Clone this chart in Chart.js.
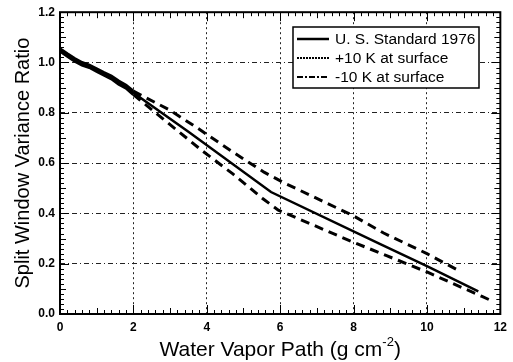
<!DOCTYPE html>
<html>
<head>
<meta charset="utf-8">
<script src="https://cdn.jsdelivr.net/npm/chart.js@4.4.1/dist/chart.umd.min.js"></script>
<style>
    html, body { margin: 0; padding: 0; background: #fff; }
    canvas { display: block; }
</style>
</head>
<body>
<canvas id="myChart" width="513" height="362"></canvas>
<script>
// U. S. Standard 1976
const standardX = [0, 0.2, 0.4, 0.6, 0.8, 1.0, 1.2, 1.4, 1.6, 1.8, 2.0, 3.5, 5.75, 8.7, 10.0, 11.4];
const standardY = [1.05, 1.03, 1.01, 0.995, 0.985, 0.97, 0.955, 0.94, 0.92, 0.905, 0.88, 0.725, 0.485, 0.28, 0.19, 0.09];

// +10 K at surface
const warmX = [0, 0.2, 0.4, 0.6, 0.8, 1.0, 1.2, 1.4, 1.6, 1.8, 2.0, 3.0, 3.75, 4.67, 5.56, 6.13, 8.0, 8.82, 10.0, 10.9];
const warmY = [1.055, 1.035, 1.016, 1.0, 0.99, 0.975, 0.96, 0.946, 0.926, 0.91, 0.886, 0.81, 0.739, 0.648, 0.564, 0.52, 0.39, 0.322, 0.24, 0.17];

// -10 K at surface
const coldX = [0, 0.2, 0.4, 0.6, 0.8, 1.0, 1.2, 1.4, 1.6, 1.8, 2.0, 3.85, 4.72, 5.54, 5.95, 8.0, 8.9, 10.0, 11.5, 11.8];
const coldY = [1.045, 1.025, 1.005, 0.99, 0.98, 0.965, 0.95, 0.935, 0.914, 0.898, 0.872, 0.652, 0.556, 0.457, 0.413, 0.285, 0.232, 0.167, 0.07, 0.05];

const seriesLabels = ['U. S. Standard 1976', '+10 K at surface', '-10 K at surface'];
const legendDash = [[], [2, 1], [6, 2, 2, 2]];

const xTicks = [0, 2, 4, 6, 8, 10, 12];
const yTicks = [0.0, 0.2, 0.4, 0.6, 0.8, 1.0, 1.2];

const FONT = '"Liberation Sans", Arial, Helvetica, sans-serif';

/**
 * x と y の配列から点データを作ります。
 */
const toPoints = (xs, ys) => xs.map((x, i) => ({ x: x, y: ys[i] }));

/**
 * 2 g/cm2 より先を破線にします。
 */
const dashAfterTwo = (ctx) => (ctx.p0.parsed.x < 2 ? [] : [9, 6]);

/**
 * 枠と内向きの目盛りを描きます。
 */
const frameTicks = {
    id: 'frameTicks',
    afterDatasetsDraw(chart) {
        const { ctx, chartArea: a, scales } = chart;
        const x = scales.x;
        const y = scales.y;

        ctx.save();
        ctx.strokeStyle = '#000';
        ctx.lineWidth = 1;
        ctx.setLineDash([]);
        ctx.beginPath();

        for (let i = 0; i <= 60; i++) {
            const px = Math.round(x.getPixelForValue(i * 0.2)) + 0.5;
            const len = i % 10 === 0 ? 9 : (i % 5 === 0 ? 6 : 4);
            ctx.moveTo(px, a.bottom);
            ctx.lineTo(px, a.bottom - len);
            ctx.moveTo(px, a.top);
            ctx.lineTo(px, a.top + len);
        }

        for (let i = 0; i <= 60; i++) {
            const py = Math.round(y.getPixelForValue(i * 0.02)) + 0.5;
            const len = i % 10 === 0 ? 9 : (i % 5 === 0 ? 6 : 4);
            ctx.moveTo(a.left, py);
            ctx.lineTo(a.left + len, py);
            ctx.moveTo(a.right, py);
            ctx.lineTo(a.right - len, py);
        }
        ctx.stroke();

        ctx.lineWidth = 2;
        ctx.strokeRect(a.left, a.top, a.right - a.left, a.bottom - a.top);
        ctx.restore();
    },
};

/**
 * 軸タイトルと凡例を描きます。
 */
const labelsAndLegend = {
    id: 'labelsAndLegend',
    afterDraw(chart) {
        const { ctx, chartArea: a } = chart;

        ctx.save();
        ctx.fillStyle = '#000';

        // 縦軸タイトル
        ctx.save();
        ctx.translate(22, (a.top + a.bottom) / 2);
        ctx.rotate(-Math.PI / 2);
        ctx.font = '20px ' + FONT;
        ctx.textAlign = 'center';
        ctx.textBaseline = 'middle';
        ctx.fillText('Split Window Variance Ratio', 0, 1);
        ctx.restore();

        // 横軸タイトル (上付きの -2 を含む)
        const mainFont = '21px ' + FONT;
        const supFont = '13px ' + FONT;
        const part1 = 'Water Vapor Path (g cm';
        const sup = '-2';
        const part2 = ')';
        ctx.font = mainFont;
        const w1 = ctx.measureText(part1).width;
        const w3 = ctx.measureText(part2).width;
        ctx.font = supFont;
        const w2 = ctx.measureText(sup).width;
        const total = w1 + w2 + w3;
        let tx = (a.left + a.right) / 2 - total / 2;
        const baseY = 356;
        ctx.textAlign = 'left';
        ctx.textBaseline = 'alphabetic';
        ctx.font = mainFont;
        ctx.fillText(part1, tx, baseY);
        tx += w1;
        ctx.font = supFont;
        ctx.fillText(sup, tx, baseY - 10);
        tx += w2;
        ctx.font = mainFont;
        ctx.fillText(part2, tx, baseY);

        // 凡例
        const box = { left: 293, top: 27, right: 479, bottom: 88 };
        ctx.fillStyle = '#fff';
        ctx.fillRect(box.left, box.top, box.right - box.left, box.bottom - box.top);
        ctx.strokeStyle = '#000';
        ctx.lineWidth = 1.5;
        ctx.strokeRect(box.left, box.top, box.right - box.left, box.bottom - box.top);

        ctx.font = '15.5px ' + FONT;
        ctx.textBaseline = 'middle';
        ctx.fillStyle = '#000';
        seriesLabels.forEach((label, i) => {
            const rowY = 39 + i * 19;
            ctx.beginPath();
            ctx.setLineDash(legendDash[i]);
            ctx.lineWidth = i === 0 ? 2.5 : 2;
            ctx.moveTo(297, rowY);
            ctx.lineTo(329, rowY);
            ctx.stroke();
            ctx.setLineDash([]);
            ctx.fillText(label, 335, rowY + 1);
        });

        ctx.restore();
    },
};

const createChart = () => {
    const lineStyle = {
        borderColor: '#000',
        backgroundColor: '#000',
        pointRadius: 0,
        tension: 0,
        fill: false,
    };

    const chartData = {
        datasets: [
            Object.assign({}, lineStyle, {
                label: seriesLabels[0],
                data: toPoints(standardX, standardY),
                borderWidth: 2.5,
            }),
            Object.assign({}, lineStyle, {
                label: seriesLabels[1],
                data: toPoints(warmX, warmY),
                borderWidth: 3,
                segment: { borderDash: dashAfterTwo },
            }),
            Object.assign({}, lineStyle, {
                label: seriesLabels[2],
                data: toPoints(coldX, coldY),
                borderWidth: 3,
                segment: { borderDash: dashAfterTwo },
            }),
        ],
    };

    const config = {
        type: 'line',
        data: chartData,
        options: {
            responsive: false,
            animation: false,
            devicePixelRatio: 1,
            layout: { padding: { left: 0, right: 11, top: 12, bottom: 0 } },
            plugins: {
                legend: { display: false },
                tooltip: { enabled: false },
            },
            scales: {
                x: {
                    type: 'linear',
                    min: 0,
                    max: 12,
                    afterBuildTicks: (scale) => {
                        scale.ticks = xTicks.map((v) => ({ value: v }));
                    },
                    afterFit: (scale) => {
                        scale.height = 48;
                    },
                    ticks: {
                        color: '#000',
                        font: { family: FONT, size: 12, weight: 'bold' },
                        padding: 6,
                        maxRotation: 0,
                        callback: (v) => String(v),
                    },
                    grid: {
                        color: '#222',
                        lineWidth: 1,
                        drawTicks: false,
                    },
                    border: { display: false, dash: [2, 3] },
                },
                y: {
                    type: 'linear',
                    min: 0,
                    max: 1.2,
                    afterBuildTicks: (scale) => {
                        scale.ticks = yTicks.map((v) => ({ value: v }));
                    },
                    afterFit: (scale) => {
                        scale.width = 60;
                    },
                    ticks: {
                        color: '#000',
                        font: { family: FONT, size: 12, weight: 'bold' },
                        padding: 5,
                        callback: (v) => Number(v).toFixed(1),
                    },
                    grid: {
                        color: '#222',
                        lineWidth: 1,
                        drawTicks: false,
                    },
                    border: { display: false, dash: [5, 3, 1, 3] },
                },
            },
        },
        plugins: [frameTicks, labelsAndLegend],
    };

    new Chart(document.getElementById('myChart'), config);
};

createChart();
</script>
</body>
</html>
